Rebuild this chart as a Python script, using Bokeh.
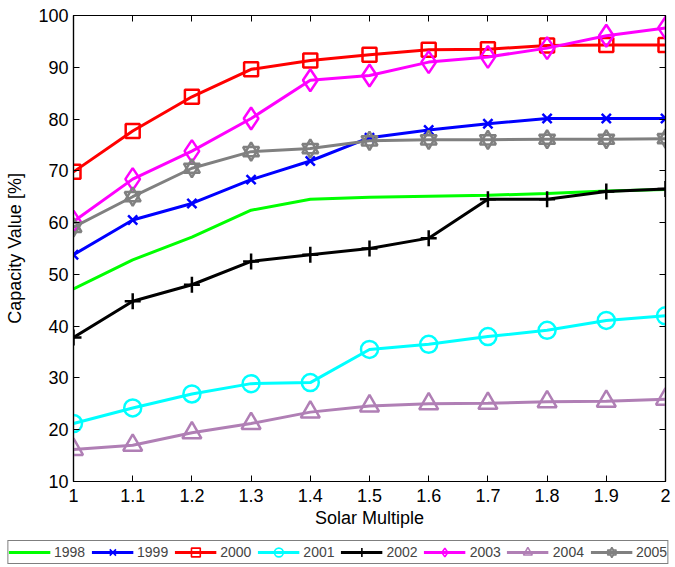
from bokeh.plotting import figure
from bokeh.models import (Range1d, FixedTicker, PrintfTickFormatter, LinearAxis,
                          Legend, LegendItem, CustomJSTickFormatter)
from bokeh.embed import file_html
from bokeh.resources import INLINE

solar_multiple = [1.0, 1.1, 1.2, 1.3, 1.4, 1.5, 1.6, 1.7, 1.8, 1.9, 2.0]
x_ticks = [1.0, 1.1, 1.2, 1.3, 1.4, 1.5, 1.6, 1.7, 1.8, 1.9, 2.0]
y_ticks = [10, 20, 30, 40, 50, 60, 70, 80, 90, 100]

cv_1998 = [47.2, 52.8, 57.2, 62.4, 64.5, 64.9, 65.1, 65.3, 65.6, 66.1, 66.4]
cv_1999 = [53.8, 60.5, 63.7, 68.3, 71.9, 76.4, 77.9, 79.1, 80.1, 80.1, 80.1]
cv_2000 = [69.8, 77.7, 84.3, 89.6, 91.3, 92.4, 93.4, 93.5, 94.2, 94.3, 94.3]
cv_2001 = [21.2, 24.2, 26.9, 28.9, 29.1, 35.5, 36.5, 38.0, 39.2, 41.1, 42.0]
cv_2002 = [37.8, 44.8, 48.0, 52.5, 53.8, 55.0, 57.0, 64.5, 64.5, 66.0, 66.5]
cv_2003 = [60.2, 68.4, 73.8, 80.1, 87.5, 88.4, 91.0, 92.0, 93.7, 96.1, 97.6]
cv_2004 = [16.2, 17.0, 19.4, 21.2, 23.4, 24.6, 25.0, 25.1, 25.4, 25.5, 25.9]
cv_2005 = [59.1, 65.0, 70.5, 73.7, 74.3, 75.8, 76.0, 76.0, 76.1, 76.1, 76.2]

years = ["1998", "1999", "2000", "2001", "2002", "2003", "2004", "2005"]
series = [cv_1998, cv_1999, cv_2000, cv_2001, cv_2002, cv_2003, cv_2004, cv_2005]
colors = ["#00ff00", "#0000ff", "#ff0000", "#00ffff", "#000000", "#ff00ff", "#b07fb5", "#808080"]
markers = [[], [("x", 13)], [("square", 14)], [("circle", 17)], [("cross", 16)],
           [("diamond", 22)], [("triangle", 19)],
           [("triangle", 16), ("inverted_triangle", 16)]]

FONT = "Liberation Sans"

p = figure(frame_width=592, frame_height=466, output_backend="svg", toolbar_location=None,
           x_range=Range1d(1, 2), y_range=Range1d(10, 100),
           min_border_left=73, min_border_right=10, min_border_top=15, min_border_bottom=55)
p.grid.visible = False
p.outline_line_color = "black"
p.outline_line_width = 1.2
p.background_fill_color = "white"

for ys, col, mk in zip(series, colors, markers):
    p.line(solar_multiple, ys, line_color=col, line_width=3)
    for m, s in mk:
        p.scatter(solar_multiple, ys, marker=m, size=s, line_color=col,
                  line_width=2.5, fill_color=None, fill_alpha=0)

def style_axis(ax):
    ax.axis_line_color = "black"
    ax.axis_line_width = 1.2
    ax.major_tick_line_color = "black"
    ax.major_tick_in = 6
    ax.major_tick_out = 0
    ax.minor_tick_line_color = None
    ax.major_label_text_font = FONT
    ax.major_label_text_color = "black"
    ax.major_label_text_font_size = "18px"
    ax.axis_label_text_font = FONT
    ax.axis_label_text_font_size = "18px"
    ax.axis_label_text_font_style = "normal"
    ax.axis_label_text_color = "black"

p.xaxis.ticker = FixedTicker(ticks=x_ticks)
p.xaxis.formatter = PrintfTickFormatter(format="%g")
p.yaxis.ticker = FixedTicker(ticks=y_ticks)
p.xaxis.axis_label = "Solar Multiple"
p.yaxis.axis_label = "Capacity Value [%]"
style_axis(p.xaxis[0])
style_axis(p.yaxis[0])
p.xaxis.major_label_standoff = 7
p.yaxis.major_label_standoff = 5
p.xaxis.axis_label_standoff = 3
p.yaxis.axis_label_standoff = 10

blank = CustomJSTickFormatter(code="return ''")
top = LinearAxis(ticker=FixedTicker(ticks=x_ticks), formatter=blank,
                 major_label_standoff=0, axis_label=None)
style_axis(top)
right = LinearAxis(ticker=FixedTicker(ticks=y_ticks), formatter=blank,
                   major_label_standoff=0, axis_label=None)
style_axis(right)
p.add_layout(top, "above")
p.add_layout(right, "right")

# legend strip below the chart: same series, drawn outside its (empty) view range
lf = figure(width=675, height=31, output_backend="svg", toolbar_location=None,
            x_range=Range1d(0, 0.5), y_range=Range1d(0, 1),
            min_border=0, outline_line_color=None)
lf.axis.visible = False
lf.grid.visible = False
items = []
for yr, ys, col, mk in zip(years, series, colors, markers):
    rs = [lf.line(solar_multiple, ys, line_color=col, line_width=3)]
    for m, s in mk:
        rs.append(lf.scatter(solar_multiple, ys, marker=m, size=s, line_color=col,
                             line_width=1.6, fill_color=None, fill_alpha=0))
    items.append(LegendItem(label=yr, renderers=rs))

legend = Legend(items=items, orientation="horizontal", location="center",
                glyph_width=42, glyph_height=22, label_standoff=4, spacing=6,
                padding=0, margin=0, label_height=22,
                label_text_font=FONT, label_text_font_size="14px",
                border_line_color="black", border_line_width=1.2,
                background_fill_alpha=1.0)
lf.add_layout(legend)

open("out.html", "w").write(file_html([p, lf], INLINE))
